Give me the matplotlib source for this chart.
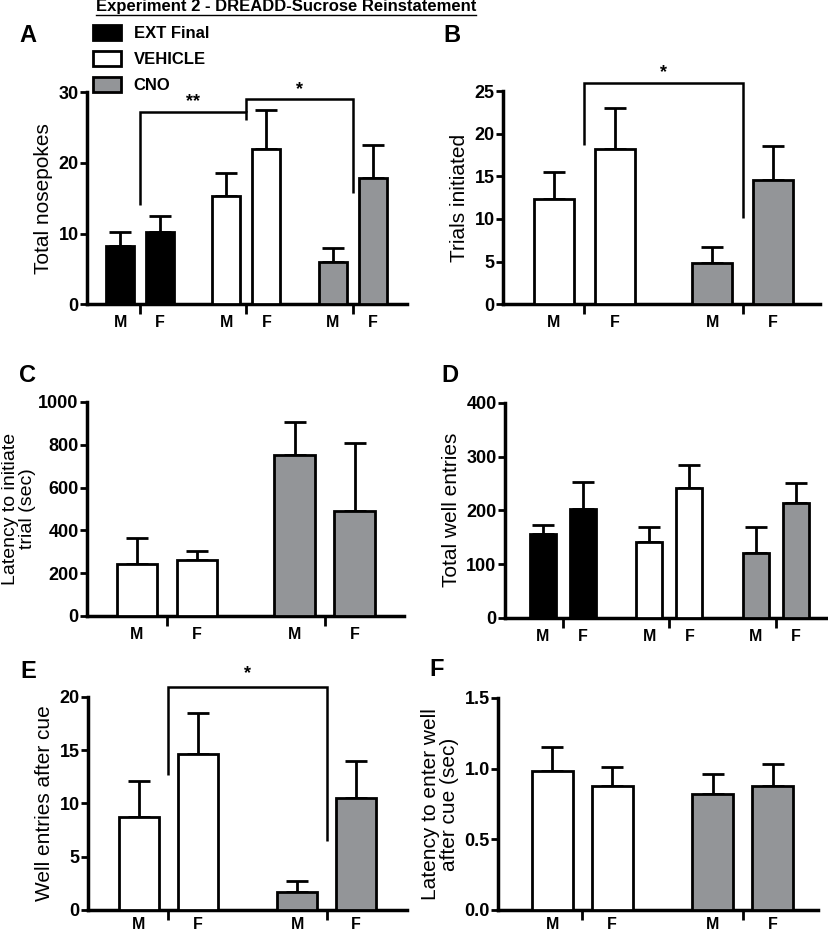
import numpy as np
import matplotlib
matplotlib.use('Agg')
import matplotlib.pyplot as plt
from matplotlib.patches import Patch
from matplotlib.lines import Line2D

plt.rcParams['font.family'] = ['Liberation Sans', 'DejaVu Sans']

# ---------------------------------------------------------------
# data (mean, SEM) per panel; group order: M, F
# ---------------------------------------------------------------
group_names = ["EXT Final", "VEHICLE", "CNO"]
group_colors = {"EXT Final": "#000000", "VEHICLE": "#ffffff", "CNO": "#939598"}
sex_labels = ["M", "F"]

# A: total nosepokes
a_groups = ["EXT Final", "VEHICLE", "CNO"]
a_mean = [[8.3, 10.2], [15.3, 22.0], [6.0, 17.8]]
a_sem = [[1.9, 2.3], [3.2, 5.5], [1.9, 4.7]]

# B: trials initiated
b_groups = ["VEHICLE", "CNO"]
b_mean = [[12.3, 18.2], [4.8, 14.6]]
b_sem = [[3.2, 4.8], [1.9, 4.0]]

# C: latency to initiate trial
c_groups = ["VEHICLE", "CNO"]
c_mean = [[243, 262], [752, 491]]
c_sem = [[123, 42], [155, 317]]

# D: total well entries
d_groups = ["EXT Final", "VEHICLE", "CNO"]
d_mean = [[156, 203], [141, 242], [121, 214]]
d_sem = [[17, 50], [28, 43], [48, 37]]

# E: well entries after cue
e_groups = ["VEHICLE", "CNO"]
e_mean = [[8.7, 14.6], [1.7, 10.5]]
e_sem = [[3.4, 3.9], [1.0, 3.5]]

# F: latency to enter well after cue
f_groups = ["VEHICLE", "CNO"]
f_mean = [[0.98, 0.88], [0.82, 0.88]]
f_sem = [[0.175, 0.13], [0.14, 0.15]]

# ---------------------------------------------------------------
LW = 2.0

fig = plt.figure(figsize=(8.29, 9.36), dpi=100)


def panel(rect, letter, letter_xy, groups, means, sems, ylim, yticks, ylabel,
          gap, width, xlim, yfmt="{:g}", xpad=8, ysize=15, ypad=4):
    ax = fig.add_axes(rect)
    for gi, g in enumerate(groups):
        c = gi * gap
        for si in range(2):
            x = c + (si - 0.5)
            ax.errorbar(x, means[gi][si], yerr=[[0], [sems[gi][si]]], fmt='none',
                        ecolor='black', elinewidth=LW, capsize=8, capthick=LW, zorder=2)
            ax.bar(x, means[gi][si], width=width, color=group_colors[g],
                   edgecolor='black', linewidth=LW, zorder=3)
    centers = [gi * gap for gi in range(len(groups))]
    bar_x = [c + d for c in centers for d in (-0.5, 0.5)]
    ax.set_xlim(*xlim)
    ax.set_ylim(*ylim)
    ax.set_yticks(yticks)
    ax.set_yticklabels([yfmt.format(t) for t in yticks], fontweight='bold', fontsize=13)
    ax.set_xticks(centers)
    ax.set_xticklabels([])
    ax.set_xticks(bar_x, minor=True)
    ax.set_xticklabels(sex_labels * len(groups), minor=True, fontweight='bold', fontsize=11.5)
    ax.tick_params(axis='x', which='major', direction='out', length=7, width=LW)
    ax.tick_params(axis='x', which='minor', length=0, pad=xpad)
    ax.tick_params(axis='y', direction='out', length=5, width=LW, pad=1)
    for s in ('top', 'right'):
        ax.spines[s].set_visible(False)
    for s in ('left', 'bottom'):
        ax.spines[s].set_linewidth(LW + 0.5)
    ax.set_ylabel(ylabel, fontsize=ysize, labelpad=ypad, linespacing=1.0)
    fig.text(letter_xy[0] / 829, 1 - letter_xy[1] / 936, letter, fontsize=17,
             fontweight='bold', ha='center', va='center')
    return ax


def bracket(ax, pts, star, star_xy):
    xs, ys = zip(*pts)
    ax.plot(xs, ys, color='black', lw=1.8, clip_on=False, zorder=4,
            solid_joinstyle='miter', solid_capstyle='butt')
    ax.text(star_xy[0], star_xy[1], star, ha='center', va='center',
            fontsize=13, fontweight='bold', clip_on=False)


axA = panel([0.105, 0.675, 0.386, 0.2265], "A", (28, 36), a_groups, a_mean, a_sem,
            (0, 30), [0, 10, 20, 30], "Total nosepokes", 2.66, 0.7, (-1.33, 6.68))
gA = 2.66
bracket(axA, [(0, 14.0), (0, 27.2), (gA, 27.2), (gA, 26.0)], "**", (gA / 2, 28.7))
bracket(axA, [(gA, 27.2), (gA, 29.1), (2 * gA, 29.1), (2 * gA, 15.8)], "*", (1.5 * gA, 30.4))

axB = panel([0.607, 0.675, 0.382, 0.2276], "B", (452, 36), b_groups, b_mean, b_sem,
            (0, 25), [0, 5, 10, 15, 20, 25], "Trials initiated", 2.6, 0.66, (-1.33, 3.87))
bracket(axB, [(0, 18.7), (0, 25.9), (2.6, 25.9), (2.6, 10.1)], "*", (1.3, 27.2))

axC = panel([0.105, 0.342, 0.382, 0.2286], "C", (28, 375), c_groups, c_mean, c_sem,
            (0, 1000), [0, 200, 400, 600, 800, 1000], "Latency to initiate\ntrial (sec)",
            2.63, 0.67, (-1.33, 3.95), ysize=14, ypad=2)

axD = panel([0.609, 0.340, 0.39, 0.2297], "D", (450, 375), d_groups, d_mean, d_sem,
            (0, 400), [0, 100, 200, 300, 400], "Total well entries", 2.66, 0.65, (-1.45, 6.63))

axE = panel([0.106, 0.0278, 0.385, 0.2276], "E", (28, 672), e_groups, e_mean, e_sem,
            (0, 20), [0, 5, 10, 15, 20], "Well entries after cue", 2.69, 0.68, (-1.36, 4.05),
            xpad=5)
bracket(axE, [(0, 12.7), (0, 20.9), (2.69, 20.9), (2.69, 6.5)], "*", (1.345, 22.2))

axF = panel([0.601, 0.0278, 0.386, 0.2265], "F", (437, 670), f_groups, f_mean, f_sem,
            (0, 1.5), [0.0, 0.5, 1.0, 1.5], "Latency to enter well\nafter cue (sec)",
            2.67, 0.68, (-1.4, 3.93), yfmt="{:.1f}", xpad=5)

# legend
handles = [Patch(facecolor=group_colors[g], edgecolor='black', linewidth=LW, label=g)
           for g in group_names]
fig.legend(handles=handles, loc='upper left', bbox_to_anchor=(93 / 829, 1 - 25 / 936),
           frameon=False, prop={'weight': 'bold', 'size': 12},
           handlelength=1.7, handleheight=1.0, labelspacing=0.6, handletextpad=0.75,
           borderpad=0, borderaxespad=0)

# underlined title
title = fig.text(286 / 829, 1 - 7 / 936, "Experiment 2 - DREADD-Sucrose Reinstatement",
                 ha='center', va='center', fontsize=12, fontweight='bold')
fig.canvas.draw()
bb = title.get_window_extent().transformed(fig.transFigure.inverted())
fig.add_artist(Line2D([bb.x0, bb.x1], [bb.y0 - 0.001, bb.y0 - 0.001], color='black',
                      lw=1.0, transform=fig.transFigure))

fig.savefig("out.png", dpi=100)
